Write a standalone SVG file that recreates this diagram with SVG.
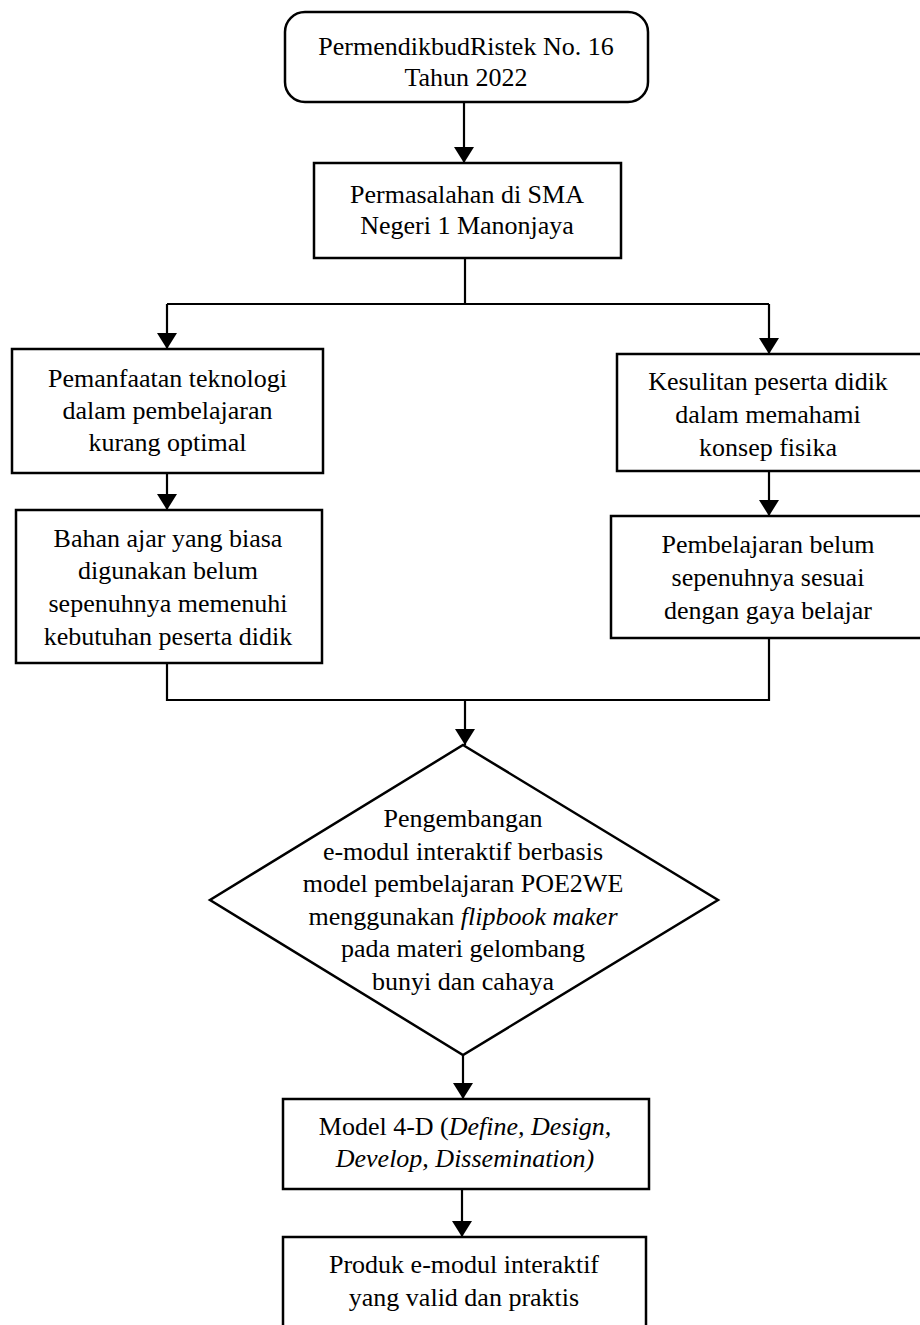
<svg xmlns="http://www.w3.org/2000/svg" width="920" height="1325" viewBox="0 0 920 1325">
<style>
.box{fill:#fff;stroke:#000;stroke-width:2.5}
.ln{fill:none;stroke:#000;stroke-width:2.2}
text{font-family:'Liberation Serif';font-size:26px;fill:#000;text-anchor:middle}
.i{font-style:italic}
</style>
<defs>
<marker id="ah" markerUnits="userSpaceOnUse" markerWidth="16" markerHeight="20" refX="16" refY="10" orient="auto" viewBox="0 0 16 20">
<path d="M0,0 L16,10 L0,20 z" fill="#000"/>
</marker>
</defs>
<rect width="920" height="1325" fill="#fff"/>
<g id="connectors">
<line class="ln" x1="464" y1="102" x2="464" y2="163" marker-end="url(#ah)"/>
<polyline class="ln" points="465,258 465,304"/>
<polyline class="ln" points="167,304 769,304"/>
<line class="ln" x1="167" y1="304" x2="167" y2="349" marker-end="url(#ah)"/>
<line class="ln" x1="769" y1="304" x2="769" y2="354" marker-end="url(#ah)"/>
<line class="ln" x1="167" y1="473" x2="167" y2="510" marker-end="url(#ah)"/>
<line class="ln" x1="769" y1="471" x2="769" y2="516" marker-end="url(#ah)"/>
<polyline class="ln" points="167,663 167,700 769,700 769,638"/>
<line class="ln" x1="465" y1="700" x2="465" y2="745" marker-end="url(#ah)"/>
<line class="ln" x1="463" y1="1055" x2="463" y2="1099" marker-end="url(#ah)"/>
<line class="ln" x1="462" y1="1189" x2="462" y2="1237" marker-end="url(#ah)"/>
</g>
<g id="n1">
<rect class="box" x="285" y="12" width="363" height="90" rx="20"/>
<text x="466" y="55">PermendikbudRistek No. 16</text>
<text x="466" y="86">Tahun 2022</text>
</g>
<g id="n2">
<rect class="box" x="314" y="163" width="307" height="95"/>
<text x="467" y="203">Permasalahan di SMA</text>
<text x="467" y="234">Negeri 1 Manonjaya</text>
</g>
<g id="n3">
<rect class="box" x="12" y="349" width="311" height="124"/>
<text x="167.5" y="387">Pemanfaatan teknologi</text>
<text x="167.5" y="419">dalam pembelajaran</text>
<text x="167.5" y="451">kurang optimal</text>
</g>
<g id="n4">
<rect class="box" x="617" y="354" width="310" height="117"/>
<text x="768" y="390">Kesulitan peserta didik</text>
<text x="768" y="423">dalam memahami</text>
<text x="768" y="456">konsep fisika</text>
</g>
<g id="n5">
<rect class="box" x="16" y="510" width="306" height="153"/>
<text x="168" y="547">Bahan ajar yang biasa</text>
<text x="168" y="579">digunakan belum</text>
<text x="168" y="612">sepenuhnya memenuhi</text>
<text x="168" y="645">kebutuhan peserta didik</text>
</g>
<g id="n6">
<rect class="box" x="611" y="516" width="316" height="122"/>
<text x="768" y="553">Pembelajaran belum</text>
<text x="768" y="586">sepenuhnya sesuai</text>
<text x="768" y="619">dengan gaya belajar</text>
</g>
<g id="n7">
<polygon class="box" points="463,745 718,900 463,1055 210,900"/>
<text x="463" y="827">Pengembangan</text>
<text x="463" y="860">e-modul interaktif berbasis</text>
<text x="463" y="892">model pembelajaran POE2WE</text>
<text x="463" y="925">menggunakan <tspan class="i">flipbook maker</tspan></text>
<text x="463" y="957">pada materi gelombang</text>
<text x="463" y="990">bunyi dan cahaya</text>
</g>
<g id="n8">
<rect class="box" x="283" y="1099" width="366" height="90"/>
<text x="465" y="1135">Model 4-D (<tspan class="i">Define, Design,</tspan></text>
<text x="465" y="1167" class="i">Develop, Dissemination)</text>
</g>
<g id="n9">
<rect class="box" x="283" y="1237" width="363" height="120"/>
<text x="464" y="1273">Produk e-modul interaktif</text>
<text x="464" y="1306">yang valid dan praktis</text>
</g>
</svg>
